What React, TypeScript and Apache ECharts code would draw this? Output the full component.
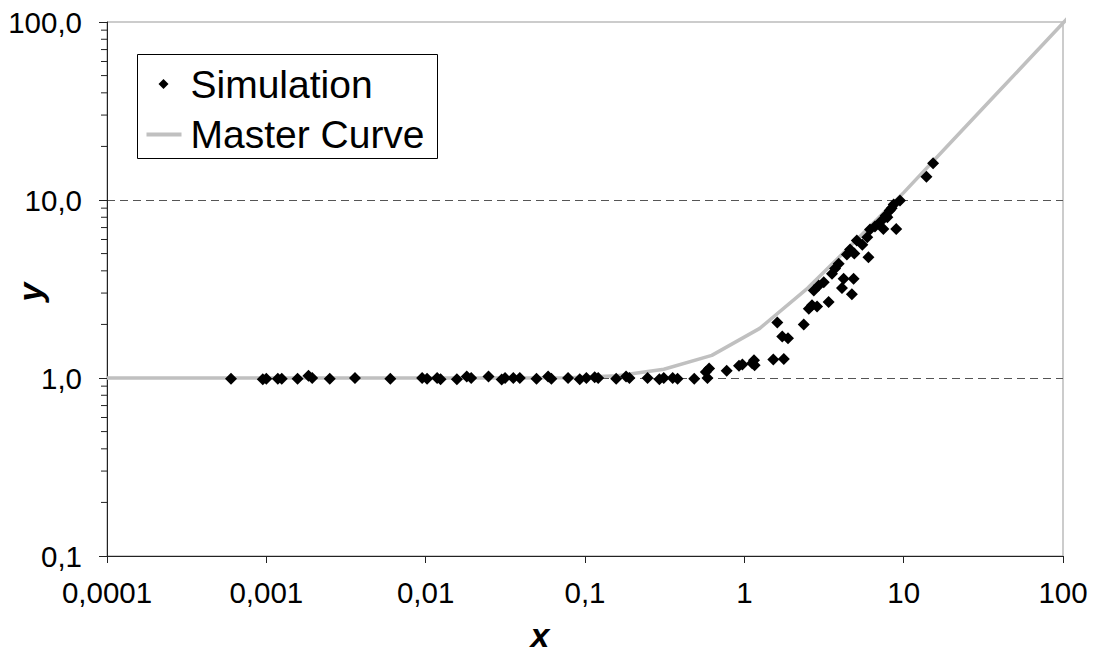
import React, { useEffect, useRef } from "react";
import * as echarts from "echarts";

const FONT = "'Liberation Sans', Arial, Helvetica, sans-serif";

// Master curve
const masterX = [0.0001, 0.001, 0.01, 0.04, 0.08, 0.16, 0.3125, 0.625, 1.25, 2.5, 5, 10, 20, 40, 80, 110];
const masterY = [1.0, 1.0, 1.0, 1.0, 1.003, 1.03, 1.12, 1.34, 1.9, 3.2, 5.9, 11.0, 21.3, 41.2, 79.7, 108];

// Simulation points
const simX = [
  0.0006, 0.00095, 0.001, 0.00118, 0.00125, 0.00157, 0.00184, 0.00194, 0.0025, 0.0036,
  0.006, 0.0095, 0.0102, 0.0118, 0.0124, 0.0157, 0.0181, 0.0193, 0.0248, 0.03,
  0.0315, 0.0355, 0.039, 0.0496, 0.0587, 0.0615, 0.0783, 0.0927, 0.102, 0.115,
  0.121, 0.157, 0.181, 0.19, 0.247, 0.293, 0.312, 0.355, 0.381, 0.485,
  0.573, 0.587, 0.601, 0.775, 0.926, 0.972, 1.12, 1.15, 1.16, 1.52,
  1.77, 1.61, 1.73, 1.88, 2.36, 2.54, 2.66, 2.86, 3.38, 4.73,
  2.73, 4.1, 2.93, 3.15, 4.2, 4.85, 3.55, 3.71, 3.91, 6.01,
  4.4, 4.61, 4.9, 5.08, 5.5, 5.91, 6.15, 6.6, 7.46, 8.98,
  7.18, 7.72, 7.9, 8.18, 8.4, 8.66, 9.48, 13.9, 15.3,
];
const simY = [
  0.99, 0.985, 0.99, 0.99, 0.99, 0.99, 1.03, 1.0, 0.99, 1.0,
  0.99, 1.0, 0.99, 1.0, 0.985, 0.985, 1.02, 1.0, 1.02, 0.98,
  1.0, 1.0, 1.0, 0.99, 1.02, 0.99, 1.0, 0.985, 1.0, 1.01,
  1.0, 0.99, 1.02, 1.0, 1.0, 0.985, 1.0, 1.0, 0.99, 0.99,
  1.08, 1.0, 1.13, 1.1, 1.17, 1.19, 1.21, 1.26, 1.18, 1.27,
  1.28, 2.05, 1.71, 1.67, 2.0, 2.45, 2.56, 2.52, 2.67, 2.95,
  3.1, 3.2, 3.31, 3.45, 3.61, 3.61, 3.85, 4.12, 4.38, 4.77,
  4.94, 5.27, 5.0, 5.92, 5.6, 6.18, 6.82, 7.1, 6.88, 6.88,
  7.57, 8.18, 8.0, 8.73, 9.0, 9.42, 9.93, 13.5, 16.1,
];

// Axis ranges and tick labels
const xRange = [0.0001, 100];
const yRange = [0.1, 100];
const xTickLabels = ["0,0001", "0,001", "0,01", "0,1", "1", "10", "100"];
const yTickLabels = ["0,1", "1,0", "10,0", "100,0"];
const yMinorTicks = [0.2, 0.3, 0.4, 0.5, 0.6, 0.7, 0.8, 0.9, 2, 3, 4, 5, 6, 7, 8, 9, 20, 30, 40, 50, 60, 70, 80, 90];

export default function App() {
  const ref = useRef<HTMLDivElement>(null);

  useEffect(() => {
    if (!ref.current) return;
    const chart = echarts.init(ref.current, undefined, { renderer: "svg" });

    const option: any = {
      animation: false,
      backgroundColor: "#ffffff",
      grid: {
        left: 107,
        right: 30,
        top: 22,
        bottom: 100,
        show: true,
        borderColor: "#999999",
        borderWidth: 1,
        backgroundColor: "transparent",
      },
      xAxis: {
        type: "log",
        logBase: 10,
        min: xRange[0],
        max: xRange[1],
        splitNumber: 6,
        axisLine: { show: true, onZero: false, lineStyle: { color: "#222", width: 1 } },
        axisTick: { show: true, length: 7, lineStyle: { color: "#222" } },
        axisLabel: {
          fontSize: 29.5,
          fontFamily: FONT,
          color: "#000",
          margin: 21,
          formatter: (v: number) => {
            const i = Math.round(Math.log10(v) - Math.log10(xRange[0]));
            return xTickLabels[i] ?? "";
          },
        },
        splitLine: { show: false },
      },
      yAxis: {
        type: "log",
        logBase: 10,
        min: yRange[0],
        max: yRange[1],
        splitNumber: 3,
        axisLine: { show: true, onZero: false, lineStyle: { color: "#222", width: 1 } },
        axisTick: { show: true, length: 8, lineStyle: { color: "#222" } },
        axisLabel: {
          fontSize: 29.5,
          fontFamily: FONT,
          color: "#000",
          margin: 25,
          formatter: (v: number) => {
            const i = Math.round(Math.log10(v) - Math.log10(yRange[0]));
            return yTickLabels[i] ?? "";
          },
        },
        splitLine: {
          show: true,
          showMinLine: false,
          showMaxLine: false,
          lineStyle: { color: "#555", width: 1, type: [8, 5] },
        },
      },
      series: [
        {
          name: "Master Curve",
          type: "line",
          data: masterX.map((x, i) => [x, masterY[i]]),
          showSymbol: false,
          symbol: "none",
          clip: false,
          lineStyle: { color: "#c0c0c0", width: 3.5 },
          z: 2,
          silent: true,
        },
        {
          name: "Simulation",
          type: "scatter",
          data: simX.map((x, i) => [x, simY[i]]),
          symbol: "diamond",
          symbolSize: 12,
          itemStyle: { color: "#000", opacity: 1 },
          z: 3,
          silent: true,
        },
        {
          type: "custom",
          silent: true,
          clip: false,
          data: yMinorTicks.map((v) => [xRange[0], v]),
          renderItem: (_params: any, api: any) => {
            const p = api.coord([api.value(0), api.value(1)]);
            return {
              type: "line",
              shape: { x1: p[0] - 6, y1: p[1], x2: p[0], y2: p[1] },
              style: { stroke: "#222", lineWidth: 1 },
            };
          },
          z: 4,
        },
      ],
      graphic: [
        {
          type: "group",
          left: 137,
          top: 54,
          children: [
            {
              type: "rect",
              shape: { x: 0, y: 0, width: 300, height: 104 },
              style: { fill: "#fff", stroke: "#000", lineWidth: 1 },
            },
            {
              type: "polygon",
              shape: { points: [[26, 24.5], [31, 29.5], [26, 34.5], [21, 29.5]] },
              style: { fill: "#000" },
            },
            {
              type: "line",
              shape: { x1: 9, y1: 80, x2: 44, y2: 80 },
              style: { stroke: "#c0c0c0", lineWidth: 4 },
            },
            {
              type: "text",
              x: 53,
              y: 30,
              style: {
                text: "Simulation",
                fontSize: 39,
                fontFamily: FONT,
                fill: "#000",
                verticalAlign: "middle",
                align: "left",
              },
            },
            {
              type: "text",
              x: 53,
              y: 80,
              style: {
                text: "Master Curve",
                fontSize: 39,
                fontFamily: FONT,
                fill: "#000",
                verticalAlign: "middle",
                align: "left",
              },
            },
          ],
        },
        {
          type: "text",
          x: 540,
          y: 635,
          style: {
            text: "x",
            fontSize: 34,
            fontWeight: "bold",
            fontStyle: "italic",
            fontFamily: FONT,
            fill: "#000",
            align: "center",
            verticalAlign: "middle",
          },
        },
        {
          type: "text",
          x: 30,
          y: 292,
          rotation: Math.PI / 2,
          style: {
            text: "y",
            fontSize: 34,
            fontWeight: "bold",
            fontStyle: "italic",
            fontFamily: FONT,
            fill: "#000",
            align: "center",
            verticalAlign: "middle",
          },
        },
      ],
    };

    chart.setOption(option);
    return () => chart.dispose();
  }, []);

  return (
    <div
      ref={ref}
      style={{ position: "fixed", left: 0, top: 0, width: 1093, height: 656, background: "#fff" }}
    />
  );
}
